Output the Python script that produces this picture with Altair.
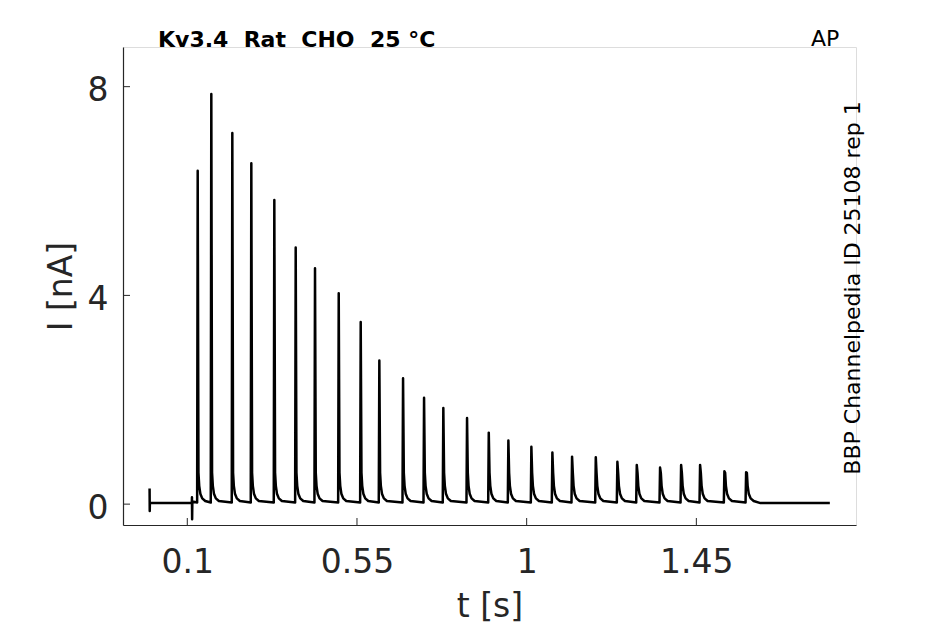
import altair as alt
import pandas as pd

# ---- data ----
spike_t = [0.1276, 0.1637, 0.2194, 0.2698, 0.3308, 0.3875, 0.4387, 0.5016, 0.5599,
           0.6093, 0.6722, 0.7279, 0.7790, 0.8419, 0.8995, 0.9515, 1.0125, 1.0682,
           1.1204, 1.1833, 1.2406, 1.2920, 1.3538, 1.4096, 1.4599, 1.5244, 1.5820]
spike_peak = [6.39, 7.86, 7.11, 6.53, 5.83, 4.92, 4.52, 4.04, 3.49,
              2.75, 2.41, 2.04, 1.84, 1.65, 1.37, 1.22, 1.10, 0.99,
              0.91, 0.90, 0.81, 0.75, 0.70, 0.75, 0.75, 0.63, 0.61]
# decay foot of every spike (time after peak [s], current [nA])
foot_dt = [0.002, 0.004, 0.007, 0.012, 0.02]
foot_I = [0.6, 0.35, 0.2, 0.11, 0.06]
rise_dt = 0.0015
baseline_I = 0.03
# start of trace: capacitive artefacts at t = 0 and at stimulus onset
start_t = [0.0, 0.0004, 0.0008, 0.1120, 0.1124, 0.1128, 0.1134]
start_I = [0.30, -0.13, 0.02, 0.02, 0.13, -0.29, 0.05]
end_t = [1.62, 1.804]
end_I = [0.02, 0.02]

x_ticks = [0.1, 0.55, 1, 1.45]
y_ticks = [0, 4, 8]
x_domain = [-0.0705, 1.8734]
y_domain = [-0.40, 8.76]

title_txt = "Kv3.4\u00a0\u00a0Rat\u00a0\u00a0CHO\u00a0\u00a025 \u00b0C"
corner_txt = "AP"
side_txt = "BBP Channelpedia ID 25108 rep 1"

# ---- build trace table ----
ts, vs = list(start_t), list(start_I)
for t, p in zip(spike_t, spike_peak):
    ts += [t - rise_dt, t] + [t + d for d in foot_dt]
    vs += [baseline_I, p] + foot_I
ts += end_t
vs += end_I
trace = pd.DataFrame({"t": ts, "I": vs, "i": range(len(ts))})

W, H = 733, 478
AX = "#262626"
FONT = "DejaVu Sans"

xs = alt.Scale(domain=x_domain, nice=False, zero=False)
ys = alt.Scale(domain=y_domain, nice=False, zero=False)

line = alt.Chart(trace).mark_line(color="black", strokeWidth=2.5, strokeJoin="round",
                                  clip=True).encode(
    x=alt.X("t:Q", scale=xs, axis=alt.Axis(
        values=x_ticks, format=".3~g", title="t [s]", ticks=False, grid=False,
        labelFontSize=33, labelColor=AX, labelFont=FONT, labelPadding=21,
        labelFlush=False, domainColor=AX, domainWidth=1.2, titleFontSize=33,
        titleFont=FONT, titleColor=AX, titleFontWeight="normal", titleX=W / 2,
        titleY=91, titleBaseline="alphabetic", titleAlign="center")),
    y=alt.Y("I:Q", scale=ys, axis=alt.Axis(
        values=y_ticks, format=".3~g", title="I [nA]", ticks=False, grid=False,
        labelFontSize=33, labelColor=AX, labelFont=FONT, labelPadding=15,
        labelBaseline="middle", labelOffset=4, labelFlush=False, domainColor=AX,
        domainWidth=1.2, titleFontSize=33, titleFont=FONT, titleColor=AX,
        titleFontWeight="normal", titleX=-52, titleY=H / 2, titleAngle=270,
        titleBaseline="alphabetic", titleAlign="center")),
    order="i:Q",
)

xt = alt.Chart(pd.DataFrame({"t": x_ticks})).mark_rule(color=AX, strokeWidth=1).encode(
    x=alt.X("t:Q", scale=xs), y=alt.value(H), y2=alt.value(H - 7))
yt = alt.Chart(pd.DataFrame({"I": y_ticks})).mark_rule(color=AX, strokeWidth=1).encode(
    y=alt.Y("I:Q", scale=ys), x=alt.value(0), x2=alt.value(7))

title = alt.Chart(pd.DataFrame({"s": [title_txt]})).mark_text(
    font=FONT, fontSize=22, fontWeight="bold", color="black", align="left",
    baseline="alphabetic").encode(text="s:N", x=alt.value(35), y=alt.value(-0.5))
corner = alt.Chart(pd.DataFrame({"s": [corner_txt]})).mark_text(
    font=FONT, fontSize=22, color="black", align="left",
    baseline="alphabetic").encode(text="s:N", x=alt.value(688), y=alt.value(-1))
side = alt.Chart(pd.DataFrame({"s": [side_txt]})).mark_text(
    font=FONT, fontSize=22, color="black", align="center", angle=270,
    baseline="alphabetic").encode(text="s:N", x=alt.value(737), y=alt.value(241))

chart = alt.layer(line, xt, yt, title, corner, side).properties(
    width=W, height=H,
    autosize=alt.AutoSizeParams(type="none"),
    padding={"left": 115, "top": 39, "right": 80, "bottom": 99},
).configure_view(stroke=None).configure(font=FONT, background="white")

chart.save("out.html", embed_options={"renderer": "svg", "actions": False})
